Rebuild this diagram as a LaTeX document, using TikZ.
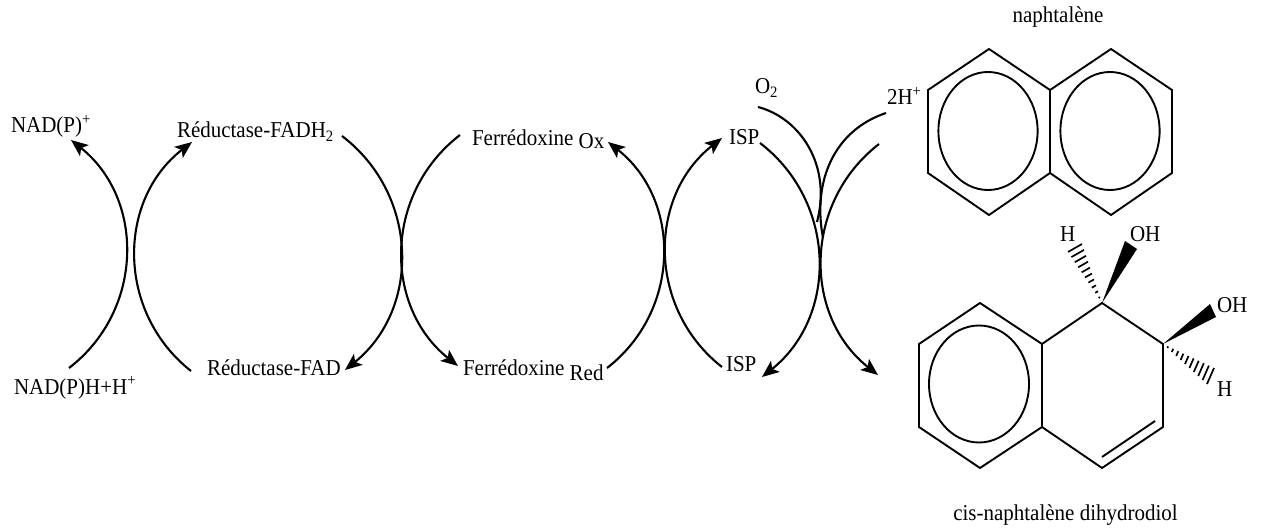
\documentclass[tikz,border=0pt]{standalone}
\usepackage{fontspec}
\setmainfont{Liberation Serif}
\usetikzlibrary{arrows.meta,calc}
\tikzset{
  lbl/.style={anchor=base west,inner sep=0pt,outer sep=0pt,font=\fontsize{21}{24}\selectfont},
  lblc/.style={lbl,anchor=base},
  arcline/.style={line width=2.1pt,looseness=1.06},
  bl/.style={arcline,bend left=52},
  br/.style={arcline,bend right=52},
  arr/.style={-{Stealth[length=17pt,width=14pt,inset=4pt]}},
  bond/.style={line width=1.9pt,line join=miter},
  hash/.style={line width=1.7pt},
  wedge/.style={fill=black,draw=none}
}
\newcommand{\lowr}[2]{\raisebox{#1pt}{#2}}
\newcommand{\vs}[1]{\scalebox{1}[1.08]{#1}}
\begin{document}
\begin{tikzpicture}[x=1pt,y=-1pt]
\useasboundingbox (0,0) rectangle (1271,529);
% labels
\node[lblc] (naph) at (1058,23) {\vs{naphtalène}};
\node[lblc] (cis) at (1065.5,520) {\vs{cis-naphtalène dihydrodiol}};
\node[lbl] (o2) at (755,94) {\vs{O\textsubscript{2}}};
\node[lbl] (hplus) at (887,105) {\vs{2H\textsuperscript{+}}};
\node[lbl] (nadp) at (11,133) {\vs{NAD(P)\textsuperscript{+}}};
\node[lbl] (nadh) at (14,394) {\vs{NAD(P)H+H\textsuperscript{+}}};
\node[lbl] (fadh) at (177,138) {\vs{Réductase-FADH\textsubscript{2}}};
\node[lbl] (fad) at (207,375) {\vs{Réductase-FAD}};
\node[lbl] (fox) at (472,146) {\vs{Ferrédoxine \lowr{-2}{Ox}}};
\node[lbl] (fred) at (463,375) {\vs{Ferrédoxine \lowr{-5}{Red}}};
\node[lbl] (ispt) at (729,145) {\vs{ISP}};
\node[lbl] (ispb) at (726,371) {\vs{ISP}};
\node[lbl] (ha) at (1060,242) {\vs{H}};
\node[lbl] (oha) at (1130,242) {\vs{OH}};
\node[lbl] (ohb) at (1217,312) {\vs{OH}};
\node[lbl] (hb) at (1217,396) {\vs{H}};
% connector ends
\coordinate (nadh-o) at (69,368);   \coordinate (nadp-i) at (71,140);
\coordinate (fad-o) at (191,371);   \coordinate (fadh-i) at (192,142);
\coordinate (fadh-o) at (342,136);  \coordinate (fad-i) at (345,370);
\coordinate (fox-o) at (460,135);   \coordinate (fred-i) at (458,366);
\coordinate (fred-o) at (607,368);  \coordinate (fox-i) at (608,142);
\coordinate (ispb-o) at (722,367);  \coordinate (ispt-i) at (722,138);
\coordinate (ispt-o) at (760,143);  \coordinate (ispb-i) at (762,377);
\coordinate (naph-o) at (879,144);  \coordinate (diol-i) at (878,375);
\coordinate (o2-o) at (758,107);    \coordinate (o2-e) at (817,222);
\coordinate (hp-o) at (886,113);    \coordinate (hp-e) at (823,238);
% connectors
\draw[br,arr] (nadh-o) to (nadp-i);
\draw[bl,arr] (fad-o) to (fadh-i);
\draw[bl,arr] (fadh-o) to (fad-i);
\draw[br,arr] (fox-o) to (fred-i);
\draw[br,arr] (fred-o) to (fox-i);
\draw[bl,arr] (ispb-o) to (ispt-i);
\draw[bl,arr] (ispt-o) to (ispb-i);
\draw[br,arr] (naph-o) to (diol-i);
\draw[arcline] (o2-o) .. controls (800,118) and (832,165) .. (o2-e);
\draw[arcline] (hp-o) .. controls (835,130) and (812,180) .. (hp-e);
% naphthalene
\draw[bond] (989,49) -- (1050,90) -- (1111,49) -- (1172,90) -- (1172,173) -- (1111,215) -- (1050,173) -- (989,215) -- (928,173) -- (928,90) -- cycle;
\draw[bond] (1050,90) -- (1050,173);
\draw[bond] (988,131) ellipse [x radius=49.6,y radius=59];
\draw[bond] (1110,131) ellipse [x radius=49.6,y radius=59];
% dihydrodiol
\coordinate (c1) at (1102,303);
\coordinate (c2) at (1163,344);
\draw[bond] (980,303) -- (1042,344) -- (c1) -- (c2) -- (1163,427) -- (1102,468) -- (1042,427) -- (980,468) -- (919,427) -- (919,344) -- cycle;
\draw[bond] (1042,344) -- (1042,427);
\draw[bond] (1102,457) -- (1155,421);
\draw[bond] (979,384) ellipse [x radius=50,y radius=58.5];
% wedges
\fill[wedge] (c1) -- (1125,241) -- (1137,249) -- cycle;
\fill[wedge] (c2) -- (1210,304) -- (1216,317) -- cycle;
% hashed bonds
\coordinate (h1a) at (1068,252); \coordinate (h1b) at (1082,244);
\coordinate (h2a) at (1214,368); \coordinate (h2b) at (1207,384);
\foreach \t in {.1,.2,...,1.01}{
  \draw[hash] ($(c1)!\t!(h1a)$) -- ($(c1)!\t!(h1b)$);
  \draw[hash] ($(c2)!\t!(h2a)$) -- ($(c2)!\t!(h2b)$);
}
\end{tikzpicture}
\end{document}
